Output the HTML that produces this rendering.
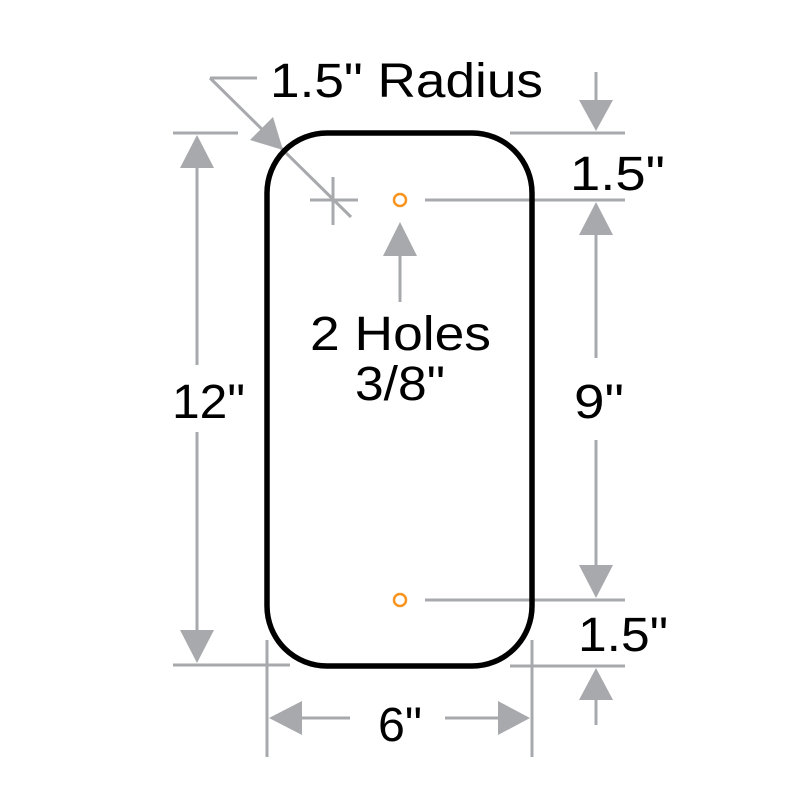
<!DOCTYPE html>
<html><head><meta charset="utf-8"><style>html,body{margin:0;padding:0;background:#fff}svg{display:block}</style></head>
<body>
<svg width="800" height="800" viewBox="0 0 800 800" xmlns="http://www.w3.org/2000/svg">
<g stroke="#a7a9ac" stroke-width="3" fill="none">
  <line x1="173" y1="133" x2="238" y2="133"/>
  <line x1="173" y1="665" x2="290" y2="665"/>
  <line x1="197" y1="165" x2="197" y2="365"/>
  <line x1="197" y1="432" x2="197" y2="633"/>
  <line x1="210" y1="78" x2="257" y2="78"/>
  <line x1="210" y1="78" x2="351" y2="217"/>
  <line x1="310" y1="200" x2="358" y2="200"/>
  <line x1="333" y1="177" x2="333" y2="225"/>
  <line x1="510" y1="133" x2="625" y2="133"/>
  <line x1="596" y1="72" x2="596" y2="102"/>
  <line x1="425" y1="200" x2="625" y2="200"/>
  <line x1="596" y1="232" x2="596" y2="358"/>
  <line x1="596" y1="440" x2="596" y2="568"/>
  <line x1="425" y1="600" x2="625" y2="600"/>
  <line x1="510" y1="666" x2="625" y2="666"/>
  <line x1="596" y1="698" x2="596" y2="725"/>
  <line x1="267" y1="640" x2="267" y2="757"/>
  <line x1="532" y1="640" x2="532" y2="757"/>
  <line x1="300" y1="718" x2="350" y2="718"/>
  <line x1="445" y1="718" x2="500" y2="718"/>
  <line x1="400" y1="254" x2="400" y2="302"/>
</g>
<g fill="#a7a9ac">
  <polygon points="197,135 180,168 214,168"/>
  <polygon points="197,663 180,630 214,630"/>
  <polygon points="283,150 250,140 273,117"/>
  <polygon points="596,131 579,100 613,100"/>
  <polygon points="596,202 579,235 613,235"/>
  <polygon points="596,598 579,565 613,565"/>
  <polygon points="596,668 579,700 613,700"/>
  <polygon points="269,718 302,701 302,735"/>
  <polygon points="530,718 498,701 498,735"/>
  <polygon points="400,222 383,256 417,256"/>
</g>
<rect x="267" y="133" width="265" height="533" rx="60" ry="60" fill="none" stroke="#000" stroke-width="5.5"/>
<circle cx="400" cy="200" r="6" fill="none" stroke="#f7941d" stroke-width="2.5"/>
<circle cx="400" cy="600" r="6" fill="none" stroke="#f7941d" stroke-width="2.5"/>
<g font-family="Liberation Sans, sans-serif" font-size="48" fill="#000" lengthAdjust="spacingAndGlyphs">
  <text x="270" y="97" textLength="273" lengthAdjust="spacingAndGlyphs">1.5" Radius</text>
  <text x="172" y="418" textLength="73" lengthAdjust="spacingAndGlyphs">12"</text>
  <text x="570" y="190" textLength="95" lengthAdjust="spacingAndGlyphs">1.5"</text>
  <text x="574" y="418" textLength="50" lengthAdjust="spacingAndGlyphs">9"</text>
  <text x="578" y="651" textLength="90" lengthAdjust="spacingAndGlyphs">1.5"</text>
  <text x="378" y="741" textLength="44" lengthAdjust="spacingAndGlyphs">6"</text>
  <text x="310" y="350" textLength="181" lengthAdjust="spacingAndGlyphs">2 Holes</text>
  <text x="355" y="400" textLength="90" lengthAdjust="spacingAndGlyphs">3/8"</text>
</g>
</svg>
</body></html>
